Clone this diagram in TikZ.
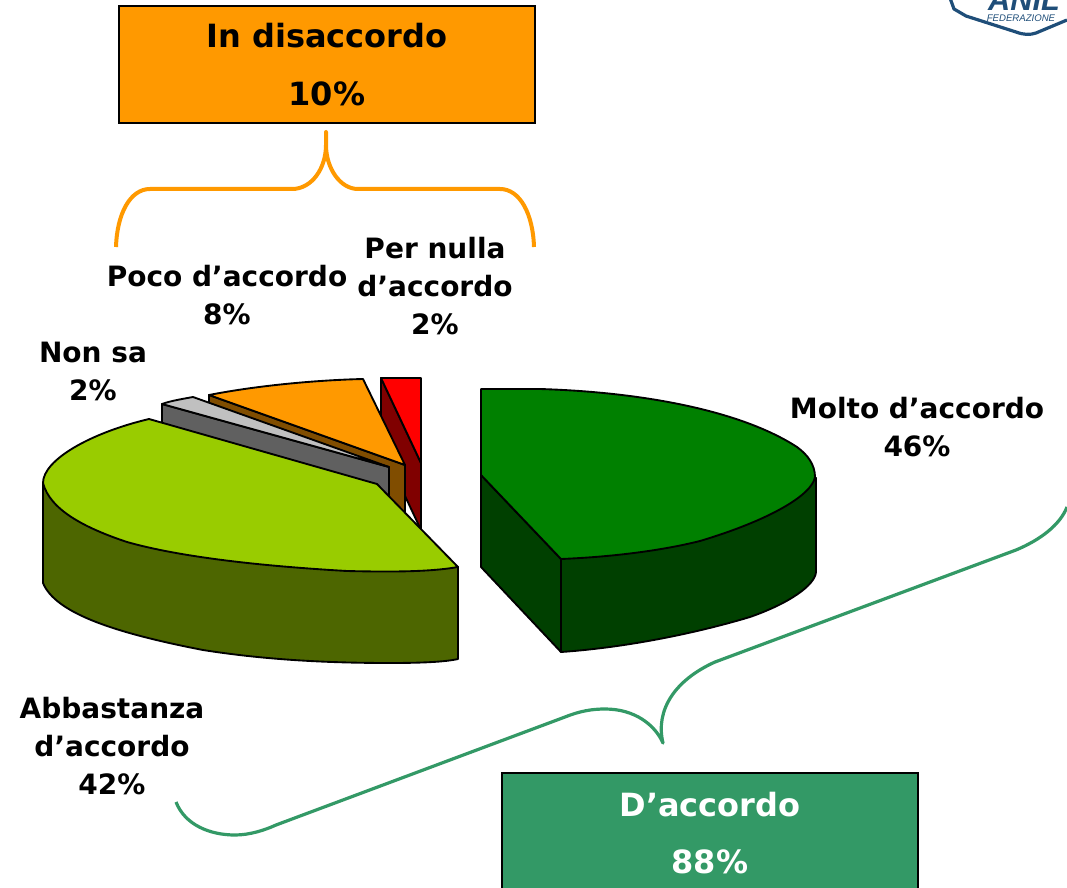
\documentclass[tikz,border=0pt]{standalone}
\usepackage{fontspec}
\setmainfont{DejaVu Sans}
\newfontfamily\logofont{Liberation Sans}
\definecolor{orangeb}{HTML}{FF9900}
\definecolor{greenb}{HTML}{339966}
\definecolor{gtop}{HTML}{008000}
\definecolor{gside}{HTML}{004000}
\definecolor{ltop}{HTML}{99CC00}
\definecolor{lside}{HTML}{4D6600}
\definecolor{gytop}{HTML}{C0C0C0}
\definecolor{gyside}{HTML}{606060}
\definecolor{obside}{HTML}{804D00}
\definecolor{rside}{HTML}{800000}
\definecolor{logoblue}{HTML}{1F4E79}
\tikzset{
 lab/.style={font=\bfseries\fontsize{21}{28.5}\selectfont,align=center,text=black,inner sep=0pt},
 boxt/.style={font=\bfseries\fontsize{24}{43}\selectfont,align=center,inner sep=0pt},
 pie/.style={draw=black,line width=1.4pt,line join=round},
 brace/.style={line cap=butt,line join=round}
}
\begin{document}
\begin{tikzpicture}[x=0.75pt,y=-0.75pt]
\useasboundingbox (0,0) rectangle (1067,888);
% red
\draw[pie,fill=rside] (381,378) -- (421,463) -- (421,530) -- (381,445) -- cycle;
\draw[pie,fill=red] (381,378) -- (421,378) -- (421,463) -- cycle;
% orange
\draw[pie,fill=obside] (209,395) -- (405,465) -- (405,512) -- (209,442) -- cycle;
\draw[pie,fill=orangeb] (209,395) .. controls (260,385) and (320,380) .. (363,379) -- (405,465) -- cycle;
% grey
\draw[pie,fill=gyside] (162,404) -- (389,467) -- (389,505) -- (162,442) -- cycle;
\draw[pie,fill=gytop] (162,404) .. controls (170,401) and (182,399) .. (193,397) -- (389,467) -- cycle;
% lime
\draw[pie,fill=lside] (43,483) -- (43,583) .. controls (55,612) and (110,632) .. (203,650) .. controls (260,659) and (320,663) .. (390,663) .. controls (420,663) and (445,662) .. (458,659) -- (458,567) -- cycle;
\draw[pie,fill=ltop] (377,484) -- (458,567) .. controls (430,572) and (390,572) .. (347,571) .. controls (260,566) and (180,557) .. (127,542) .. controls (85,528) and (50,510) .. (43,483) .. controls (43,460) and (90,433) .. (149,419) -- cycle;
% dark green
\draw[pie,fill=gside] (481,475) -- (481,567) -- (561,652) -- (561,559) -- cycle;
\draw[pie,fill=gside] (561,559) -- (561,652) .. controls (620,648) and (690,635) .. (750,617) .. controls (790,603) and (815,585) .. (816,572) -- (816,478) -- cycle;
\draw[pie,fill=gtop] (481,475) -- (481,389) -- (540,389) .. controls (640,392) and (740,410) .. (797,447) .. controls (808,455) and (815,465) .. (815,477) .. controls (812,495) and (770,520) .. (700,541) .. controls (660,551) and (610,557) .. (561,559) -- cycle;
% boxes
\node[draw=black,line width=1.4pt,fill=orangeb,minimum width=312pt,minimum height=88pt,boxt,anchor=north west] (dis) at (118,5) {In disaccordo\\10\%};
\node[draw=black,line width=1.4pt,fill=greenb,minimum width=312pt,minimum height=90pt,boxt,text=white,anchor=north west] (acc) at (501,772) {D’accordo\\88\%};
% labels
\node[lab] (poco) at (227,295) {Poco d’accordo\\8\%};
\node[lab] (nulla) at (435,286) {Per nulla\\d’accordo\\2\%};
\node[lab] (nonsa) at (93,371) {Non sa\\2\%};
\node[lab] (molto) at (917,427) {Molto d’accordo\\46\%};
\node[lab] (abb) at (112,746) {Abbastanza\\d’accordo\\42\%};
% braces
\draw[brace,line width=3pt,orangeb] (116,247) .. controls (117,214) and (130,189) .. (150,189) -- (292,189) .. controls (312,189) and (326,168) .. (326,145) -- (326,132) -- (326,145) .. controls (326,168) and (340,189) .. (358,189) -- (500,189) .. controls (520,189) and (533,214) .. (534,247);
\draw[brace,line width=2.4pt,greenb] (176,802) .. controls (185,825) and (210,835) .. (235,835) .. controls (250,835) and (265,830) .. (276,825) -- (565,717) .. controls (580,711) and (592,709) .. (605,709) .. controls (635,709) and (655,725) .. (663,743) .. controls (655,710) and (675,680) .. (715,662) -- (1016,550) .. controls (1040,540) and (1060,525) .. (1067,507);
% logo
\begin{scope}
\clip (940,0) rectangle (1067,40);
\draw[logoblue,line width=2.4pt,line join=round] (950,-2) -- (954,9) -- (966,16) -- (1016,32) .. controls (1024,35) and (1030,35) .. (1036,33) -- (1067,20);
\node[anchor=base,font=\logofont\bfseries\itshape\fontsize{23}{23}\selectfont,text=logoblue,inner sep=0pt] (anil) at (1024,11) {ANIL};
\node[anchor=base,font=\logofont\itshape\fontsize{7.2}{8}\selectfont,text=logoblue,inner sep=0pt] (fed) at (1021,22) {FEDERAZIONE};
\end{scope}
\end{tikzpicture}
\end{document}
